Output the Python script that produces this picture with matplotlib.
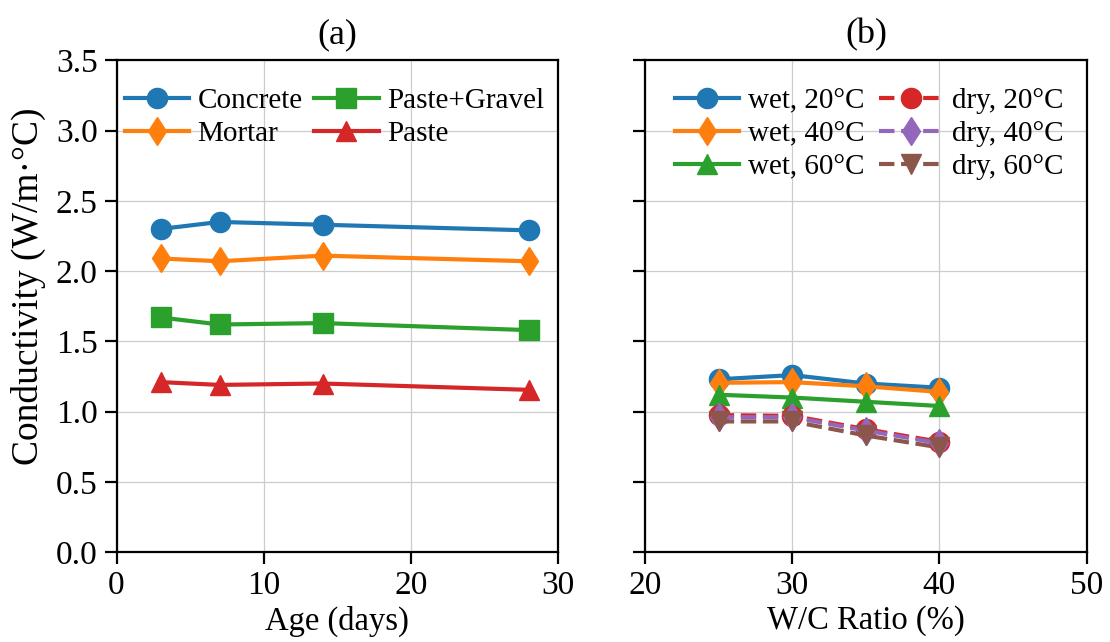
import numpy as np
import matplotlib.pyplot as plt

plt.rcParams['font.family'] = ['Liberation Serif', 'DejaVu Serif']

# (a) conductivity vs age
age = [3, 7, 14, 28]
concrete = [2.30, 2.35, 2.33, 2.29]
mortar = [2.09, 2.07, 2.11, 2.07]
paste_gravel = [1.67, 1.62, 1.63, 1.58]
paste = [1.21, 1.19, 1.20, 1.155]

# (b) conductivity vs w/c ratio
wc = [25, 30, 35, 40]
wet20 = [1.23, 1.26, 1.20, 1.17]
wet40 = [1.205, 1.21, 1.18, 1.14]
wet60 = [1.12, 1.10, 1.07, 1.04]
dry20 = [0.975, 0.97, 0.875, 0.785]
dry40 = [0.96, 0.96, 0.865, 0.775]
dry60 = [0.93, 0.93, 0.83, 0.745]

fig, (ax1, ax2) = plt.subplots(1, 2, figsize=(11.1, 6.42), dpi=100, sharey=True)
fig.subplots_adjust(left=0.105, right=0.979, top=0.906, bottom=0.14, wspace=0.197)

lw, ms = 3, 14.5
ax1.plot(age, concrete, '-o', color='C0', lw=lw, ms=ms, label='Concrete')
ax1.plot(age, mortar, '-d', color='C1', lw=lw, ms=ms, label='Mortar')
ax1.plot(age, paste_gravel, '-s', color='C2', lw=lw, ms=ms, label='Paste+Gravel')
ax1.plot(age, paste, '-^', color='C3', lw=lw, ms=ms, label='Paste')

ax2.plot(wc, wet20, '-o', color='C0', lw=lw, ms=ms, label='wet, 20°C')
ax2.plot(wc, wet40, '-d', color='C1', lw=lw, ms=ms, label='wet, 40°C')
ax2.plot(wc, wet60, '-^', color='C2', lw=lw, ms=ms, label='wet, 60°C')
ax2.plot(wc, dry20, '--o', color='C3', lw=lw, ms=ms, label='dry, 20°C')
ax2.plot(wc, dry40, '--d', color='C4', lw=lw, ms=ms, label='dry, 40°C')
ax2.plot(wc, dry60, '--v', color='C5', lw=lw, ms=ms, label='dry, 60°C')

ax1.set_xlim(0, 30)
ax1.set_ylim(0, 3.5)
ax1.set_xticks([0, 10, 20, 30])
ax1.set_yticks(np.arange(0, 3.51, 0.5))
ax1.set_xlabel('Age (days)', fontsize=23.5, labelpad=3)
ax1.set_ylabel('Conductivity (W/m·°C)', fontsize=27)
ax1.yaxis.set_label_coords(-0.16, 0.54)
ax1.set_title('(a)', fontsize=26, pad=12)

ax2.set_xlim(20, 50)
ax2.set_xticks([20, 30, 40, 50])
ax2.set_xlabel('W/C Ratio (%)', fontsize=23.5, labelpad=3)
ax2.set_title('(b)', fontsize=26, pad=12)

for ax in (ax1, ax2):
    ax.grid(True, color='#cccccc', lw=0.9)
    ax.tick_params(labelsize=24, width=1.6, length=8.5, pad=5)
    for s in ax.spines.values():
        s.set_linewidth(1.6)

leg_kw = dict(loc='upper left', ncol=2, frameon=False, fontsize=21,
              handlelength=2.2, handletextpad=0.3, labelspacing=0.22,
              borderaxespad=0)
ax1.legend(bbox_to_anchor=(-0.008, 0.9675), columnspacing=0.4, **leg_kw)
ax2.legend(bbox_to_anchor=(0.041, 0.9675), columnspacing=0.5, **leg_kw)

fig.savefig('out.png', dpi=100)
